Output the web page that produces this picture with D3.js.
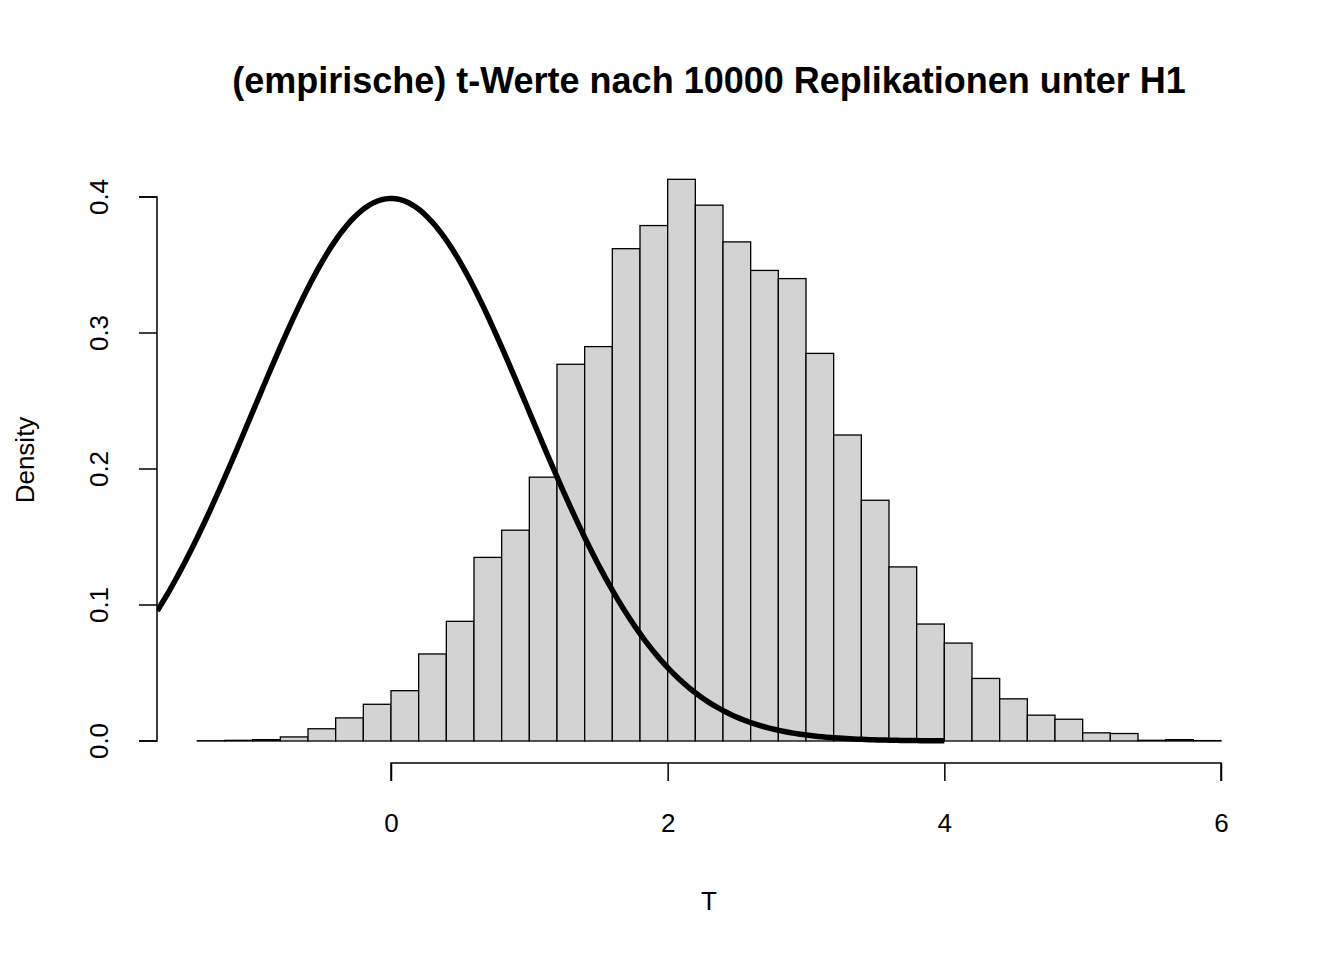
<!DOCTYPE html>
<html><head><meta charset="utf-8">
<script src="https://cdn.jsdelivr.net/npm/d3@7"></script>
<style>body{margin:0;background:#fff}text{font-family:"Liberation Sans",Arial,sans-serif}</style>
</head><body>
<svg id="chart" width="1344" height="960"></svg>
<script>
const binStart = -1.4, binWidth = 0.2;
const densities = [0.0002,0.0005,0.001,0.003,0.009,0.017,0.027,0.037,0.064,0.088,0.135,0.155,0.194,0.277,0.290,0.362,0.379,0.413,0.394,0.367,0.346,0.340,0.285,0.225,0.177,0.128,0.086,0.072,0.046,0.031,0.019,0.016,0.006,0.0055,0.0005,0.001,0.0003];
const xTicks = [0, 2, 4, 6];
const yTicks = [0, 0.1, 0.2, 0.3, 0.4];
const curveRange = [-1.69, 4];

const svg = d3.select('#chart');
const x = d3.scaleLinear().domain([0, 6]).range([391, 1221]);
const y = d3.scaleLinear().domain([0, 0.4]).range([741, 197]);

svg.append('defs').append('clipPath').attr('id', 'plot')
  .append('rect').attr('x', 157).attr('y', 100).attr('width', 1100).attr('height', 700);

svg.append('g').selectAll('rect').data(densities).join('rect')
  .attr('x', (d, i) => x(binStart + i * binWidth))
  .attr('width', x(binWidth) - x(0))
  .attr('y', d => y(d))
  .attr('height', d => y(0) - y(d))
  .attr('fill', '#d3d3d3').attr('stroke', '#000').attr('stroke-width', 1.3);

// standard normal density
const dnorm = t => Math.exp(-t * t / 2) / Math.sqrt(2 * Math.PI);
const pts = d3.range(0, 201).map(i => curveRange[0] + i * (curveRange[1] - curveRange[0]) / 200);
svg.append('path').attr('clip-path', 'url(#plot)')
  .attr('d', d3.line().x(t => x(t)).y(t => y(dnorm(t)))(pts))
  .attr('fill', 'none').attr('stroke', '#000').attr('stroke-width', 5.5);

const xAxis = svg.append('g').attr('transform', 'translate(0,763)')
  .call(d3.axisBottom(x).tickValues(xTicks).tickSize(18).tickPadding(32).tickFormat(d3.format('d')));
const yAxis = svg.append('g').attr('transform', 'translate(157,0)')
  .call(d3.axisLeft(y).tickValues(yTicks).tickSize(18).tickFormat(d3.format('.1f')));
[xAxis, yAxis].forEach(a => {
  a.select('.domain').attr('stroke-width', 1.5);
  a.selectAll('.tick line').attr('stroke-width', 1.5);
  a.selectAll('text').attr('font-size', 26).attr('font-family', '"Liberation Sans",Arial,sans-serif').attr('fill', '#000');
});
xAxis.selectAll('.tick text').attr('dy', '0.35em').attr('y', 60);
xAxis.select('.domain').attr('d', `M${x(0)},18V0H${x(6)}V18`);
yAxis.select('.domain').attr('d', `M-18,${y(0)}H0V${y(0.4)}H-18`);
yAxis.selectAll('.tick').attr('transform', 'translate(0,0)');
yAxis.selectAll('.tick line').each(function(d) { d3.select(this).attr('y1', y(d)).attr('y2', y(d)); });
yAxis.selectAll('.tick text')
  .attr('text-anchor', 'middle').attr('x', 0).attr('y', 0).attr('dy', '0.35em')
  .each(function(d) { d3.select(this).attr('transform', `translate(-58,${y(d)}) rotate(-90)`); });

svg.append('text').attr('x', 709).attr('y', 93).attr('text-anchor', 'middle')
  .attr('font-size', 36).attr('font-weight', 'bold')
  .text('(empirische) t-Werte nach 10000 Replikationen unter H1');
svg.append('text').attr('x', 709).attr('y', 910).attr('text-anchor', 'middle')
  .attr('font-size', 26).text('T');
svg.append('text').attr('transform', 'translate(34,460) rotate(-90)').attr('text-anchor', 'middle')
  .attr('font-size', 26).text('Density');
</script>
</body></html>
